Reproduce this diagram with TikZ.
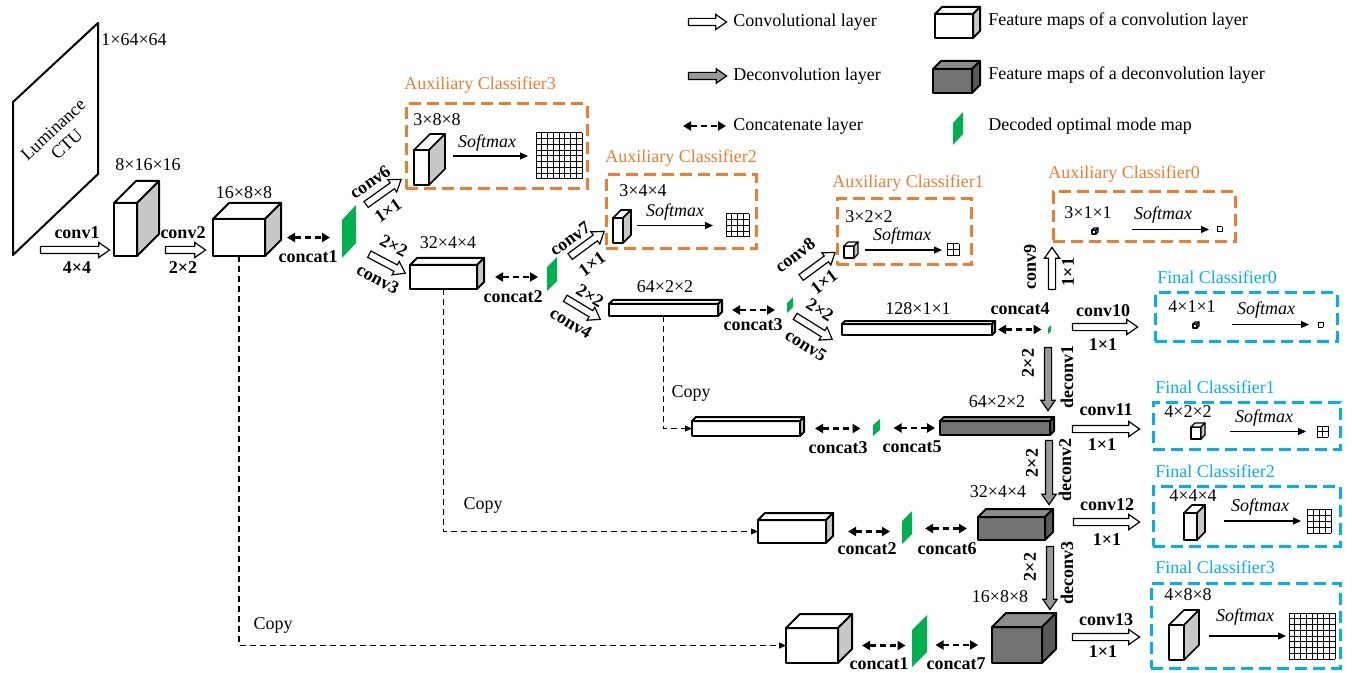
\documentclass[tikz,border=0pt]{standalone}
\usepackage{fontspec}
\setmainfont{Liberation Serif}
\usetikzlibrary{arrows.meta,positioning,shapes.arrows,calc,fit}
\definecolor{auxorange}{RGB}{237,125,49}
\definecolor{finblue}{RGB}{0,176,240}
\definecolor{mapgreen}{RGB}{0,176,80}
\tikzset{
  >={Triangle[length=4pt,width=4.5pt]},
  dimlabel/.style={font=\fontsize{9}{10}\selectfont,inner sep=1pt},
  oplabel/.style={font=\fontsize{9}{10}\selectfont\bfseries,inner sep=1pt},
  smlabel/.style={font=\fontsize{9}{10}\selectfont\itshape,inner sep=1pt},
  legend text/.style={font=\fontsize{9}{10}\selectfont,anchor=west,inner sep=0pt},
  convarr/.style={single arrow,draw,fill=white,line width=0.6pt,inner xsep=0pt,inner ysep=1.5pt,
    single arrow head extend=2pt,single arrow tip angle=70},
  deconvarr/.style={convarr,fill=black!40,single arrow head extend=1.8pt},
  catline/.style={<->,line width=1.2pt,dash pattern=on 3pt off 2pt},
  copyline/.style={-{Triangle[length=3.5pt,width=3pt]},line width=0.6pt,dash pattern=on 3pt off 2pt},
  smline/.style={-{Triangle[length=4pt,width=3.5pt]},line width=0.6pt},
  aux box/.style={draw=auxorange,line width=1.5pt,dash pattern=on 6pt off 3pt,inner sep=0pt},
  fin box/.style={aux box,draw=finblue},
  aux title/.style={font=\fontsize{9}{10}\selectfont,text=auxorange,anchor=west,inner sep=0pt},
  fin title/.style={aux title,text=finblue},
  % feature maps
  fmap lw/.style={line width=1pt},
  conv front/.style={draw,fill=white,fmap lw,line join=round},
  conv top/.style={conv front},
  conv side/.style={conv front,fill=black!22},
  deconv front/.style={conv front,fill=black!55},
  deconv top/.style={conv front,fill=black!45},
  deconv side/.style={conv front,fill=black!65},
  modemap/.style={fill=mapgreen},
  gridline/.style={line width=0.5pt},
}
% [kind]{name}{x1}{y1}{x2}{y2}{depth}
\newcommand\fmap[7][conv]{%
  \node[fit={(#3,#4) (#5,#6)},inner sep=0pt,outer sep=0pt,#1 front] (#2) {};
  \draw[#1 top] (#2.north west) -- ++(#7,-#7) -- ++({#5-#3},0) -- (#2.north east) -- cycle;
  \draw[#1 side] (#2.north east) -- ++(#7,-#7) -- ++(0,{#6-#4}) -- (#2.south east) -- cycle;
}
% {name}{x}{y bottom}{width}{height}{slant}
\newcommand\modemap[6]{%
  \fill[modemap] (#2,#3) -- ++(0,-#5) -- ++(#4,-#6) -- ++(0,#5) -- cycle;
  \coordinate (#1) at ({#2+#4/2},{#3-(#5+#6)/2});
}
% {name}{x}{y}{size}{cells}
\newcommand\mgrid[5]{%
  \foreach \k in {0,...,#5} {
    \draw[gridline] ({#2+\k*#4/#5},#3) -- ++(0,#4);
    \draw[gridline] (#2,{#3+\k*#4/#5}) -- ++(#4,0);
  }
  \coordinate (#1) at (#2,{#3+#4/2});
}
% [style]{name}{from}{to}
\newcommand\fatarrow[4][convarr]{%
  \path let \p1=($(#4)-(#3)$), \n1={veclen(\x1,\y1)} in
    (#3) -- (#4) node[#1,midway,sloped,allow upside down,minimum height=\n1] (#2) {};
}
\begin{document}
\begin{tikzpicture}[x=0.5pt,y=-0.5pt]
  \useasboundingbox (0,0) rectangle (1352,673);

  % legend
  \fatarrow{lg-conv}{686,22}{724,22}
  \node[legend text] (lg-conv-t) at (733,22) {Convolutional layer};
  \fatarrow[deconvarr]{lg-deconv}{686,76}{724,76}
  \node[legend text] (lg-deconv-t) at (733,76) {Deconvolution layer};
  \coordinate (lg-cat-a) at (683,126);
  \coordinate (lg-cat-b) at (726,126);
  \draw[catline] (lg-cat-a) -- (lg-cat-b);
  \node[legend text] (lg-cat-t) at (733,126) {Concatenate layer};
  \fmap{lg-fm}{935}{14}{973}{38}{7}
  \node[legend text] (lg-fm-t) at (988,21) {Feature maps of a convolution layer};
  \fmap[deconv]{lg-dfm}{933}{69}{972}{93}{8}
  \node[legend text] (lg-dfm-t) at (988,75) {Feature maps of a deconvolution layer};
  \modemap{lg-map}{953}{145}{10}{22}{11}
  \node[legend text] (lg-map-t) at (988,126) {Decoded optimal mode map};

  % encoder
  \draw[line width=1pt,line join=round] (13,102) -- (98,23) -- (98,174) -- (13,255) -- cycle;
  \node[dimlabel,rotate=43,align=center] (ctu) at (60,137) {Luminance\\CTU};
  \node[dimlabel,anchor=west] (d-in) at (99,40) {1×64×64};
  \fatarrow{conv1}{38,250}{107,250}
  \node[oplabel] (l-conv1) at (77,233) {conv1};
  \node[oplabel] (l-k1) at (77,268) {4×4};
  \fmap{a1}{114}{203}{137}{256}{22}
  \node[dimlabel] (d-a1) at (148,165) {8×16×16};
  \fatarrow{conv2}{163,250}{203,250}
  \node[oplabel] (l-conv2) at (183,233) {conv2};
  \node[oplabel] (l-k2) at (183,268) {2×2};
  \fmap{a2}{213}{219}{265}{256}{16}
  \node[dimlabel] (d-a2) at (244,193) {16×8×8};
  \modemap{g1}{342}{258}{14}{38}{15}
  \draw[catline,shorten <=11pt,shorten >=9.5pt] (a2.east) -- (a2.east -| g1);
  \node[oplabel] (l-cat1) at (308,257) {concat1};

  % auxiliary classifier 3
  \fatarrow{conv6}{364,206}{399,181}
  \node[oplabel,rotate=35] (l-conv6) at (370,182) {conv6};
  \node[oplabel,rotate=35] (l-k6) at (388,211) {1×1};
  \node[aux box,fit={(406,104) (587,189)}] (ac3) {};
  \node[aux title] (t-ac3) at (404,85) {Auxiliary Classifier3};
  \node[dimlabel] (d-ac3) at (437,120) {3×8×8};
  \begin{scope}[fmap lw/.style={line width=0.8pt}]
    \fmap{q3}{414}{150}{429}{185}{16}
  \end{scope}
  \mgrid{s3}{536}{133}{46}{8}
  \draw[smline,shorten <=12pt,shorten >=4pt] (q3.east |- s3) -- (s3);
  \node[smlabel] (l-sm3) at (487,143) {Softmax};

  \fatarrow{conv3}{367,253}{403,272}
  \node[oplabel,rotate=-28] (l-k3) at (394,246) {2×2};
  \node[oplabel,rotate=-28] (l-conv3) at (378,279) {conv3};
  \fmap{b1}{410}{265}{477}{289}{7}
  \node[dimlabel] (d-b1) at (448,243) {32×4×4};
  \modemap{g2}{547}{291}{10}{24}{10}
  \draw[catline,shorten <=9pt,shorten >=7pt] (b1.east) -- (b1.east -| g2);
  \node[oplabel] (l-cat2) at (513,297) {concat2};

  % auxiliary classifier 2
  \fatarrow{conv7}{568,258}{602,233}
  \node[oplabel,rotate=36] (l-conv7) at (570,239) {conv7};
  \node[oplabel,rotate=36] (l-k7) at (592,264) {1×1};
  \node[aux box,fit={(606,175) (756,249)}] (ac2) {};
  \node[aux title] (t-ac2) at (605,158) {Auxiliary Classifier2};
  \node[dimlabel] (d-ac2) at (643,191) {3×4×4};
  \begin{scope}[fmap lw/.style={line width=0.8pt}]
    \fmap{q2}{613}{218}{623}{243}{8}
  \end{scope}
  \mgrid{s2}{726}{214}{23}{4}
  \draw[smline,shorten <=7pt,shorten >=6.5pt] (q2.east |- s2) -- (s2);
  \node[smlabel] (l-sm2) at (675,212) {Softmax};

  \fatarrow{conv4}{563,297}{598,318}
  \node[oplabel,rotate=-31] (l-k4) at (590,296) {2×2};
  \node[oplabel,rotate=-31] (l-conv4) at (571,323) {conv4};
  \fmap{c1}{609}{304}{718}{316}{4}
  \node[dimlabel] (d-c1) at (665,287) {64×2×2};
  \modemap{g3}{787}{313}{6}{10}{6}
  \draw[catline,shorten <=7pt,shorten >=7.5pt] (c1.east) -- (c1.east -| g3);
  \node[oplabel] (l-cat3) at (753,325) {concat3};

  % auxiliary classifier 1
  \fatarrow{conv8}{799,279}{833,254}
  \node[oplabel,rotate=37] (l-conv8) at (795,255) {conv8};
  \node[oplabel,rotate=37] (l-k8) at (824,282) {1×1};
  \node[aux box,fit={(837,199) (971,265)}] (ac1) {};
  \node[aux title] (t-ac1) at (832,183) {Auxiliary Classifier1};
  \node[dimlabel] (d-ac1) at (869,217) {3×2×2};
  \begin{scope}[fmap lw/.style={line width=0.6pt}]
    \fmap{q1}{844}{246}{854}{258}{4}
  \end{scope}
  \mgrid{s1}{947}{244}{12}{2}
  \draw[smline,shorten <=5.5pt,shorten >=2.5pt] (q1.east |- s1) -- (s1);
  \node[smlabel] (l-sm1) at (902,236) {Softmax};

  \fatarrow{conv5}{793,315}{830,338}
  \node[oplabel,rotate=-32] (l-k5) at (820,310) {2×2};
  \node[oplabel,rotate=-32] (l-conv5) at (806,345) {conv5};
  \fmap{d1}{842}{324}{992}{335}{3}
  \node[dimlabel] (d-d1) at (918,309) {128×1×1};
  \modemap{g4}{1048}{334}{3}{6}{3}
  \draw[catline,shorten <=3pt,shorten >=4pt] (d1.east) -- (d1.east -| g4);
  \node[oplabel] (l-cat4) at (1020,309) {concat4};

  % auxiliary classifier 0
  \fatarrow{conv9}{1052,292}{1052,250}
  \node[oplabel,rotate=90] (l-conv9) at (1030,267) {conv9};
  \node[oplabel,rotate=90] (l-k9) at (1068,272) {1×1};
  \node[aux box,fit={(1053,192) (1235,242)}] (ac0) {};
  \node[aux title] (t-ac0) at (1048,174) {Auxiliary Classifier0};
  \node[dimlabel] (d-ac0) at (1088,213) {3×1×1};
  \begin{scope}[fmap lw/.style={line width=0.6pt}]
    \fmap{q0}{1092}{230}{1096}{234}{2}
  \end{scope}
  \mgrid{s0}{1217}{227}{5}{1}
  \draw[smline,shorten <=18pt,shorten >=4pt] (q0.east |- s0) -- (s0);
  \node[smlabel] (l-sm0) at (1163,215) {Softmax};

  % final classifier 0
  \fatarrow{conv10}{1070,327}{1135,327}
  \node[oplabel] (l-conv10) at (1103,311) {conv10};
  \node[oplabel] (l-k10) at (1103,345) {1×1};
  \node[fin box,fit={(1155,293) (1337,341)}] (fc0) {};
  \node[fin title] (t-fc0) at (1157,277) {Final Classifier0};
  \node[dimlabel] (d-fc0) at (1192,307) {4×1×1};
  \begin{scope}[fmap lw/.style={line width=0.6pt}]
    \fmap{p0}{1193}{324}{1197}{328}{2}
  \end{scope}
  \mgrid{r0}{1318}{322}{5}{1}
  \draw[smline,shorten <=17.5pt,shorten >=4.5pt] (p0.east |- r0) -- (r0);
  \node[smlabel] (l-smf0) at (1266,310) {Softmax};

  % decoder, level 1
  \fatarrow[deconvarr]{deconv1}{1048,345}{1048,408}
  \node[oplabel,rotate=90] (l-k-d1) at (1028,363) {2×2};
  \node[oplabel,rotate=90] (l-deconv1) at (1067,377) {deconv1};
  \fmap[deconv]{e1}{940}{421}{1050}{435}{4}
  \node[dimlabel] (d-e1) at (997,402) {64×2×2};
  \fmap{e2}{692}{421}{800}{436}{4}
  \draw[copyline] (c1.south) |- (e2.west);
  \node[dimlabel] (l-copy1) at (691,393) {Copy};
  \modemap{g5}{873}{436}{7}{11}{6}
  \draw[catline,shorten <=7.5pt,shorten >=8pt] (e2.east) -- (e2.east -| g5);
  \draw[catline,shorten <=8.5pt,shorten >=2.5pt] (e1.west -| g5) -- (e1.west);
  \node[oplabel] (l-cat3b) at (838,448) {concat3};
  \node[oplabel] (l-cat5) at (912,447) {concat5};

  \fatarrow{conv11}{1070,429}{1137,429}
  \node[oplabel] (l-conv11) at (1106,410) {conv11};
  \node[oplabel] (l-k11) at (1102,445) {1×1};
  \node[fin box,fit={(1153,402) (1340,449)}] (fc1) {};
  \node[fin title] (t-fc1) at (1155,387) {Final Classifier1};
  \node[dimlabel] (d-fc1) at (1188,412) {4×2×2};
  \begin{scope}[fmap lw/.style={line width=0.6pt}]
    \fmap{p1}{1191}{427}{1201}{439}{4}
  \end{scope}
  \mgrid{r1}{1317}{426}{11}{2}
  \draw[smline,shorten <=14.5pt,shorten >=5.5pt] (p1.east |- r1) -- (r1);
  \node[smlabel] (l-smf1) at (1264,418) {Softmax};

  % decoder, level 2
  \fatarrow[deconvarr]{deconv2}{1049,438}{1049,502}
  \node[oplabel,rotate=90] (l-k-d2) at (1032,463) {2×2};
  \node[oplabel,rotate=90] (l-deconv2) at (1065,470) {deconv2};
  \fmap[deconv]{f1}{978}{517}{1045}{540}{8}
  \node[dimlabel] (d-f1) at (998,492) {32×4×4};
  \fmap{f2}{758}{520}{826}{543}{7}
  \draw[copyline] (b1.south) |- (f2.west);
  \node[dimlabel] (l-copy2) at (483,505) {Copy};
  \modemap{g6}{902}{544}{10}{23}{10}
  \draw[catline,shorten <=11pt,shorten >=8.5pt] (f2.east) -- (f2.east -| g6);
  \draw[catline,shorten <=9pt,shorten >=5.5pt] (f1.west -| g6) -- (f1.west);
  \node[oplabel] (l-cat2b) at (867,549) {concat2};
  \node[oplabel] (l-cat6) at (947,549) {concat6};

  \fatarrow{conv12}{1071,522}{1137,522}
  \node[oplabel] (l-conv12) at (1107,505) {conv12};
  \node[oplabel] (l-k12) at (1107,540) {1×1};
  \node[fin box,fit={(1153,486) (1340,546)}] (fc2) {};
  \node[fin title] (t-fc2) at (1155,471) {Final Classifier2};
  \node[dimlabel] (d-fc2) at (1193,496) {4×4×4};
  \begin{scope}[fmap lw/.style={line width=0.8pt}]
    \fmap{p2}{1184}{513}{1197}{540}{8}
  \end{scope}
  \mgrid{r2}{1307}{509}{24}{4}
  \draw[smline,shorten <=13.5pt,shorten >=3pt] (p2.east |- r2) -- (r2);
  \node[smlabel] (l-smf2) at (1260,507) {Softmax};

  % decoder, level 3
  \fatarrow[deconvarr]{deconv3}{1050,544}{1050,607}
  \node[oplabel,rotate=90] (l-k-d3) at (1030,567) {2×2};
  \node[oplabel,rotate=90] (l-deconv3) at (1067,573) {deconv3};
  \fmap[deconv]{h1}{992}{627}{1042}{663}{14}
  \node[dimlabel] (d-h1) at (1000,597) {16×8×8};
  \fmap{h2}{786}{628}{838}{663}{14}
  \draw[copyline] (a2.south) |- (h2.west);
  \node[dimlabel] (l-copy3) at (273,625) {Copy};
  \modemap{g7}{912}{667}{15}{37}{15}
  \draw[catline,shorten <=12pt,shorten >=7pt] (h2.east) -- (h2.east -| g7);
  \draw[catline,shorten <=8pt,shorten >=7pt] (h1.west -| g7) -- (h1.west);
  \node[oplabel] (l-cat1b) at (879,664) {concat1};
  \node[oplabel] (l-cat7) at (956,664) {concat7};

  \fatarrow{conv13}{1070,637}{1137,637}
  \node[oplabel] (l-conv13) at (1106,620) {conv13};
  \node[oplabel] (l-k13) at (1103,652) {1×1};
  \node[fin box,fit={(1151,583) (1340,668)}] (fc3) {};
  \node[fin title] (t-fc3) at (1155,567) {Final Classifier3};
  \node[dimlabel] (d-fc3) at (1188,595) {4×8×8};
  \begin{scope}[fmap lw/.style={line width=0.8pt}]
    \fmap{p3}{1169}{625}{1184}{660}{15}
  \end{scope}
  \mgrid{r3}{1289}{613}{46}{8}
  \draw[smline,shorten <=12.5pt,shorten >=1.5pt] (p3.east |- r3) -- (r3);
  \node[smlabel] (l-smf3) at (1245,617) {Softmax};
\end{tikzpicture}
\end{document}
